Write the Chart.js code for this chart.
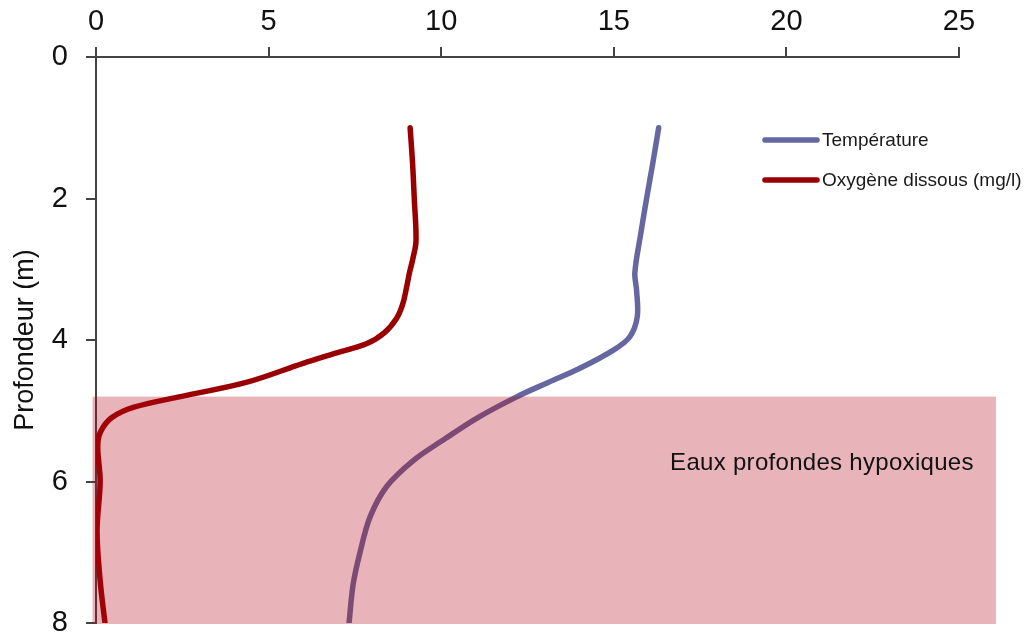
<!DOCTYPE html>
<html>
<head>
<meta charset="utf-8">
<script src="https://cdn.jsdelivr.net/npm/chart.js@4/dist/chart.umd.min.js"></script>
<style>
  html, body { margin: 0; padding: 0; background: #fff; }
  #wrap { width: 1028px; height: 633px; }
</style>
</head>
<body>
<div id="wrap"><canvas id="profile" width="1028" height="633"></canvas></div>
<script>
// Depth profile values
const tempDepths = [1.0, 1.5, 2.0, 2.5, 3.05, 3.3, 3.67, 3.95, 4.14, 4.4, 4.6, 4.8, 5.1, 5.4, 5.7, 6.07, 6.5, 7.0, 7.45, 8.0];
const tempValues = [16.3, 16.13, 15.95, 15.78, 15.61, 15.66, 15.68, 15.47, 15.0, 14.02, 13.1, 12.2, 11.05, 10.1, 9.2, 8.42, 7.94, 7.65, 7.45, 7.33];

const oxyDepths = [1.0, 1.5, 2.0, 2.6, 2.85, 3.05, 3.25, 3.5, 3.7, 3.9, 4.05, 4.2, 4.33, 4.6, 4.8, 4.95, 5.1, 5.3, 5.5, 6.0, 6.7, 7.4, 8.0];
const oxyValues = [9.1, 9.17, 9.22, 9.27, 9.18, 9.08, 9.0, 8.88, 8.7, 8.35, 7.85, 6.85, 6.0, 4.35, 2.45, 1.1, 0.45, 0.13, 0.05, 0.12, 0.03, 0.12, 0.26];

const seriesLabels = ['Température', 'Oxygène dissous (mg/l)'];
const xTicks = [0, 5, 10, 15, 20, 25];
const yTicks = [0, 2, 4, 6, 8];

// hypoxic zone (depth range) and its label
const hypoxicTop = 4.8;
const hypoxicBottom = 8;
const hypoxicLabel = 'Eaux profondes hypoxiques';

const fontFamily = "'Liberation Sans', Arial, sans-serif";

function toPoints(depths, values) {
    return depths.map((d, i) => ({ x: values[i], y: d }));
}

// pink overlay, label and legend drawn over the lines
const overlayPlugin = {
    id: 'overlay',
    afterDatasetsDraw(chart) {
        const ctx = chart.ctx;
        const xs = chart.scales.x;
        const ys = chart.scales.y;
        const left = xs.getPixelForValue(-0.1);
        const right = xs.getPixelForValue(26.07);
        const top = ys.getPixelForValue(hypoxicTop);
        const bottom = ys.getPixelForValue(hypoxicBottom);
        ctx.save();
        ctx.fillStyle = 'rgba(178, 5, 22, 0.3)';
        ctx.fillRect(left, top, right - left, bottom - top + 1);

        ctx.fillStyle = '#111';
        ctx.font = '24px ' + fontFamily;
        ctx.letterSpacing = '0.3px';
        ctx.textBaseline = 'middle';
        ctx.textAlign = 'left';
        ctx.fillText(hypoxicLabel, xs.getPixelForValue(16.63), ys.getPixelForValue(5.75));
        ctx.letterSpacing = '0px';

        // legend
        const colors = chart.data.datasets.map(ds => ds.borderColor);
        ctx.font = '19px ' + fontFamily;
        ctx.lineWidth = 5.5;
        ctx.lineCap = 'round';
        seriesLabels.forEach((label, i) => {
            const y = 140 + i * 40;
            ctx.strokeStyle = colors[i];
            ctx.beginPath();
            ctx.moveTo(765, y);
            ctx.lineTo(817, y);
            ctx.stroke();
            ctx.fillStyle = '#1a1a1a';
            ctx.fillText(label, 822, y + 1);
        });
        ctx.restore();
    }
};

const tickFont = { family: fontFamily, size: 29 };

new Chart(document.getElementById('profile'), {
    type: 'scatter',
    data: {
        datasets: [
            {
                label: seriesLabels[0],
                data: toPoints(tempDepths, tempValues),
                showLine: true,
                borderColor: '#6667a0',
                borderWidth: 5.5,
                borderCapStyle: 'round',
                pointRadius: 0,
                tension: 0.35
            },
            {
                label: seriesLabels[1],
                data: toPoints(oxyDepths, oxyValues),
                showLine: true,
                borderColor: '#990000',
                borderWidth: 5.5,
                borderCapStyle: 'round',
                pointRadius: 0,
                tension: 0.35
            }
        ]
    },
    options: {
        responsive: false,
        animation: false,
        layout: { padding: { left: 0, top: 0, right: 69, bottom: 10 } },
        plugins: {
            legend: { display: false },
            tooltip: { enabled: false }
        },
        scales: {
            x: {
                type: 'linear',
                position: 'top',
                min: 0,
                max: 25,
                afterBuildTicks: scale => { scale.ticks = xTicks.map(v => ({ value: v })); },
                afterFit: scale => {
                    scale.height = 57;
                    scale.paddingLeft = 0;
                    scale.paddingRight = 0;
                },
                ticks: { font: tickFont, color: '#111', padding: 8 },
                grid: { drawOnChartArea: false, drawTicks: true, tickLength: 10, color: '#444', lineWidth: 2 },
                border: { display: true, color: '#444', width: 2 }
            },
            y: {
                type: 'linear',
                reverse: true,
                min: 0,
                max: 8,
                afterBuildTicks: scale => { scale.ticks = yTicks.map(v => ({ value: v })); },
                afterFit: scale => {
                    scale.width = 96;
                    scale.paddingTop = 0;
                    scale.paddingBottom = 0;
                },
                ticks: { font: tickFont, color: '#111', padding: 18 },
                grid: { drawOnChartArea: false, drawTicks: true, tickLength: 10, color: '#444', lineWidth: 2 },
                border: { display: true, color: '#444', width: 2 },
                title: {
                    display: true,
                    text: 'Profondeur (m)',
                    color: '#111',
                    font: { family: fontFamily, size: 27 },
                    padding: { top: 9, bottom: 0 }
                }
            }
        }
    },
    plugins: [overlayPlugin]
});
</script>
</body>
</html>
